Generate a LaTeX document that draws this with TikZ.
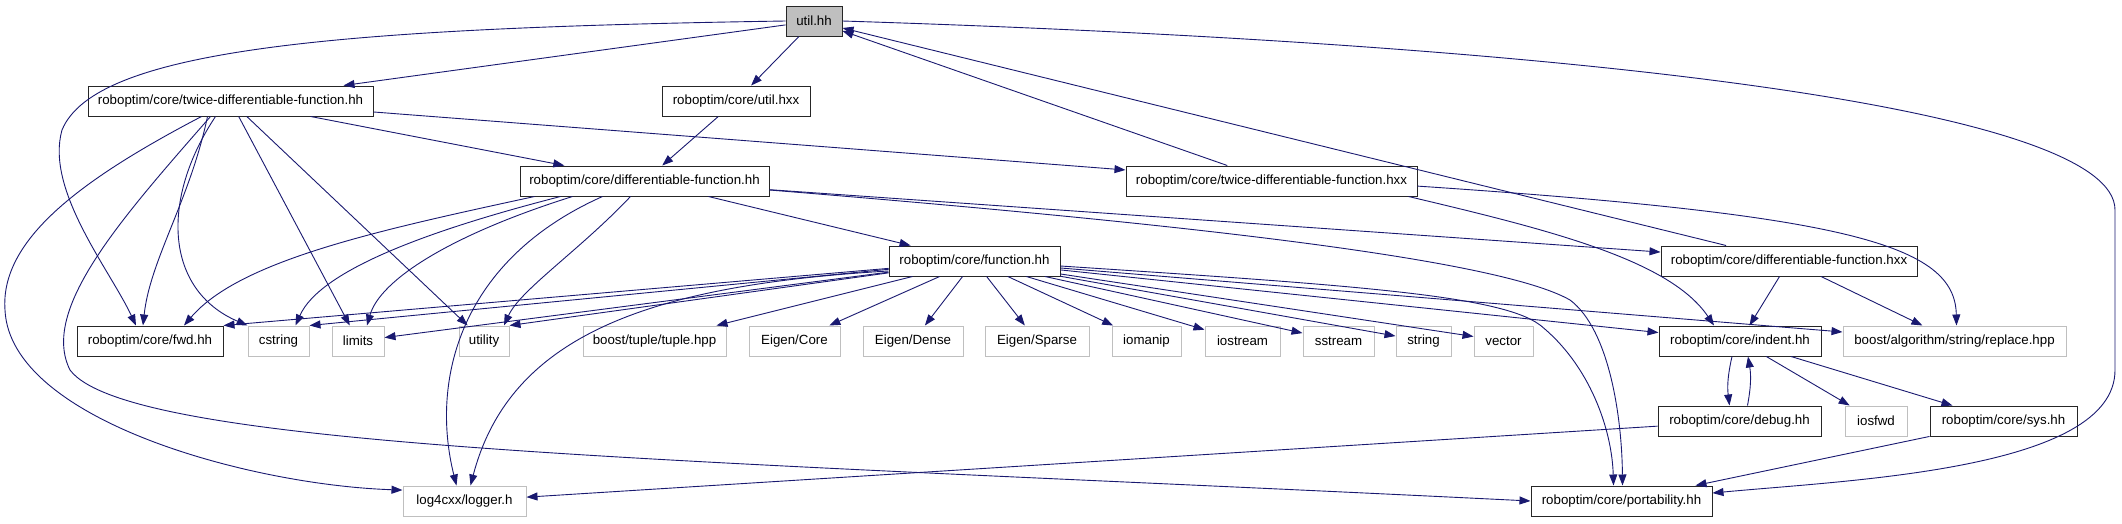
\documentclass[tikz,border=0pt]{standalone}
\usepackage{fontspec}
\setmainfont{Liberation Sans}
\usetikzlibrary{arrows.meta}
\definecolor{edgeblue}{HTML}{191970}
\definecolor{extgray}{HTML}{BFBFBF}

\begin{document}
\begin{tikzpicture}[x=1pt,y=-1pt, every node/.style={font=\fontsize{13.3}{16}\selectfont}]
\tikzstyle{hdr}=[draw=black!85,line width=1pt,minimum height=30pt,inner sep=0pt]
\tikzstyle{ext}=[draw=extgray,line width=1pt,minimum height=30pt,inner sep=0pt]
\tikzstyle{dep}=[draw=edgeblue,line width=0.9pt,-{Triangle[length=11pt,width=8pt]}]
\useasboundingbox (0,0) rectangle (2122,523);
\node[hdr,fill=extgray,minimum width=56pt] (util) at (814,21) {util.hh};
\node[hdr,minimum width=285pt] (tdf) at (230.5,101) {roboptim/core/twice-differentiable-function.hh};
\node[hdr,minimum width=148pt] (utilx) at (736,101) {roboptim/core/util.hxx};
\node[hdr,minimum width=249pt] (df) at (644.5,181) {roboptim/core/differentiable-function.hh};
\node[hdr,minimum width=291pt] (tdfx) at (1271.5,181) {roboptim/core/twice-differentiable-function.hxx};
\node[hdr,minimum width=171pt] (fn) at (974.5,261) {roboptim/core/function.hh};
\node[hdr,minimum width=256pt] (dfx) at (1789,261) {roboptim/core/differentiable-function.hxx};
\node[hdr,minimum width=146pt] (fwd) at (150,341) {roboptim/core/fwd.hh};
\node[ext,minimum width=61pt] (cstr) at (278.5,341) {cstring};
\node[ext,minimum width=52pt] (lim) at (358,341) {limits};
\node[ext,minimum width=50pt] (utl) at (484,341) {utility};
\node[ext,minimum width=143pt] (tup) at (654.5,341) {boost/tuple/tuple.hpp};
\node[ext,minimum width=91pt] (ecore) at (794.5,341) {Eigen/Core};
\node[ext,minimum width=100pt] (edense) at (913,341) {Eigen/Dense};
\node[ext,minimum width=104pt] (esparse) at (1037,341) {Eigen/Sparse};
\node[ext,minimum width=69pt] (iomanip) at (1146.5,341) {iomanip};
\node[ext,minimum width=75pt] (iostr) at (1242.5,341) {iostream};
\node[ext,minimum width=71pt] (sstr) at (1338.5,341) {sstream};
\node[ext,minimum width=55pt] (str) at (1423.5,341) {string};
\node[ext,minimum width=59pt] (vec) at (1503.5,341) {vector};
\node[hdr,minimum width=162pt] (indent) at (1740,341) {roboptim/core/indent.hh};
\node[ext,minimum width=223pt] (repl) at (1954.5,341) {boost/algorithm/string/replace.hpp};
\node[hdr,minimum width=163pt] (debug) at (1739.5,421) {roboptim/core/debug.hh};
\node[ext,minimum width=62pt] (iosfwd) at (1876,421) {iosfwd};
\node[hdr,minimum width=147pt] (sys) at (2003.5,421) {roboptim/core/sys.hh};
\node[ext,minimum width=123pt] (logger) at (464.5,501) {log4cxx/logger.h};
\node[hdr,minimum width=181pt] (port) at (1621.5,501) {roboptim/core/portability.hh};
\draw[dep] (util) -- (tdf);
\draw[dep] (util) -- (utilx);
\draw[dep] (util.west) .. controls (330,28) and (95,50) .. (62,130) .. controls (45,190) and (110,270) .. ([xshift=-14pt]fwd.north);
\draw[dep] (util.east) .. controls (1600,45) and (2115,110) .. (2115,210) -- (2115,370) .. controls (2115,470) and (1850,480) .. (port.5);
\draw[dep] (tdfx) -- (util);
\draw[dep] (dfx) -- (util);
\draw[dep] (tdf) -- (df);
\draw[dep] (tdf) -- (tdfx);
\draw[dep] (utilx) -- (df);
\draw[dep] ([xshift=-23pt]tdf.south) .. controls (190,200) and (150,260) .. ([xshift=-7pt]fwd.north);
\draw[dep] ([xshift=-15pt]tdf.south) .. controls (160,200) and (165,290) .. (cstr.north west);
\draw[dep] ([xshift=-29pt]tdf.south) .. controls (80,180) and (0,240) .. (5,310) .. controls (10,420) and (250,485) .. (logger.170);
\draw[dep] ([xshift=-20pt]tdf.south) .. controls (120,220) and (40,310) .. (70,370) .. controls (130,450) and (700,460) .. (port.west);
\draw[dep] (tdf) -- (lim);
\draw[dep] (tdf) -- (utl);
\draw[dep] ([xshift=-110pt]df.south) .. controls (380,230) and (240,260) .. ([xshift=34pt]fwd.north);
\draw[dep] ([xshift=-84pt]df.south) .. controls (430,230) and (320,270) .. ([xshift=17pt]cstr.north);
\draw[dep] ([xshift=-72pt]df.south) .. controls (450,235) and (380,280) .. ([xshift=9pt]lim.north);
\draw[dep] ([xshift=-42pt]df.south) .. controls (460,260) and (430,380) .. ([xshift=-8pt]logger.north);
\draw[dep] ([xshift=-14pt]df.south) .. controls (580,250) and (520,290) .. ([xshift=20pt]utl.north);
\draw[dep] (df) -- (fn);
\draw[dep] (df) -- (dfx);
\draw[dep] ([yshift=-9pt]df.east) .. controls (1200,225) and (1500,260) .. (1570,300) .. controls (1610,330) and (1622,420) .. ([xshift=1pt]port.north);
\draw[dep] (fn) -- (fwd.north east);
\draw[dep] (fn) -- (cstr.north east);
\draw[dep] (fn) -- (lim);
\draw[dep] (fn) -- (utl.north east);
\draw[dep] ([yshift=-10pt]fn.west) .. controls (650,285) and (510,335) .. ([xshift=6pt]logger.north);
\draw[dep] (fn) -- (tup);
\draw[dep] (fn) -- (ecore);
\draw[dep] (fn) -- (edense);
\draw[dep] (fn) -- (esparse);
\draw[dep] (fn) -- (iomanip);
\draw[dep] (fn) -- (iostr);
\draw[dep] (fn) -- (sstr);
\draw[dep] (fn) -- (str);
\draw[dep] (fn) -- (vec);
\draw[dep] (fn) -- (indent);
\draw[dep] (fn) -- (repl);
\draw[dep] ([yshift=-5pt]fn.east) .. controls (1350,285) and (1500,295) .. (1540,325) .. controls (1590,365) and (1612,430) .. ([xshift=-8pt]port.north);
\draw[dep] (tdfx.-2) .. controls (1850,215) and (1955,245) .. ([xshift=2pt]repl.north);
\draw[dep] ([xshift=-9pt]tdfx.south east) .. controls (1550,230) and (1670,260) .. ([xshift=-26pt]indent.north);
\draw[dep] (dfx) -- (indent);
\draw[dep] (dfx) -- (repl);
\draw[dep] ([xshift=-8pt]indent.south) to[bend right=10] ([xshift=-10pt]debug.north);
\draw[dep] ([xshift=8pt]debug.north) to[bend right=10] ([xshift=8pt]indent.south);
\draw[dep] (indent) -- (iosfwd);
\draw[dep] (indent) -- (sys);
\draw[dep] (sys) -- (port);
\draw[dep] (debug) -- (logger);
\end{tikzpicture}
\end{document}
